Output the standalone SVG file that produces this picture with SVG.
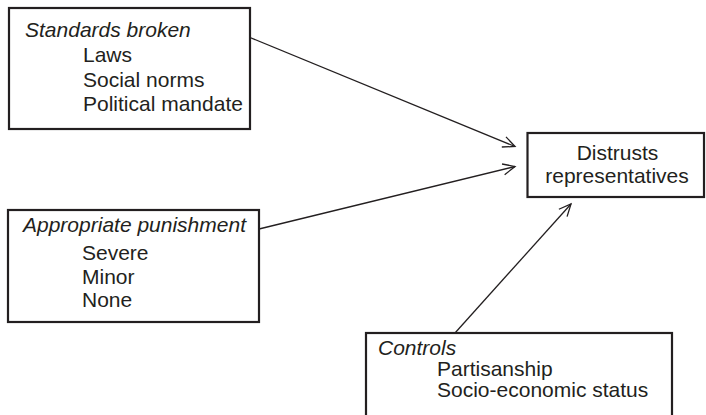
<svg xmlns="http://www.w3.org/2000/svg" width="706" height="415" viewBox="0 0 706 415">
<defs>
<style>
.box{fill:#fff;stroke:#231f20;stroke-width:2.2}
.t{font-family:"Liberation Sans",Arial,sans-serif;font-size:21px;fill:#231f20}
.h{font-style:italic}
.c{text-anchor:middle}
.ln{fill:none;stroke:#231f20;stroke-width:1.3}
</style>
<marker id="arr" markerUnits="userSpaceOnUse" markerWidth="16" markerHeight="14" refX="13" refY="6" orient="auto" viewBox="0 0 16 12">
<path d="M1,0.5 L13,6 L1,11.5" fill="none" stroke="#231f20" stroke-width="1.3"/>
</marker>
</defs>
<rect width="706" height="415" fill="#fff"/>
<g id="connectors">
<line class="ln" x1="250" y1="37.5" x2="515" y2="146.5" marker-end="url(#arr)"/>
<line class="ln" x1="259" y1="229" x2="515" y2="166.5" marker-end="url(#arr)"/>
<line class="ln" x1="455" y1="333" x2="571" y2="204" marker-end="url(#arr)"/>
</g>
<g id="standards">
<rect class="box" x="9" y="8" width="241" height="121"/>
<text class="t h" x="25" y="36.5">Standards broken</text>
<text class="t" x="83" y="62">Laws</text>
<text class="t" x="83" y="86.5">Social norms</text>
<text class="t" x="83" y="111">Political mandate</text>
</g>
<g id="punishment">
<rect class="box" x="8" y="210" width="251" height="112"/>
<text class="t h" x="23" y="232">Appropriate punishment</text>
<text class="t" x="82" y="260">Severe</text>
<text class="t" x="82" y="283.5">Minor</text>
<text class="t" x="82" y="306.5">None</text>
</g>
<g id="distrusts">
<rect class="box" x="527.5" y="133" width="176.5" height="64"/>
<text class="t c" x="617.5" y="160">Distrusts</text>
<text class="t c" x="617" y="183">representatives</text>
</g>
<g id="controls">
<rect class="box" x="366" y="333" width="306" height="90"/>
<text class="t h" x="378" y="355">Controls</text>
<text class="t" x="437" y="376">Partisanship</text>
<text class="t" x="437" y="397">Socio-economic status</text>
</g>
</svg>
